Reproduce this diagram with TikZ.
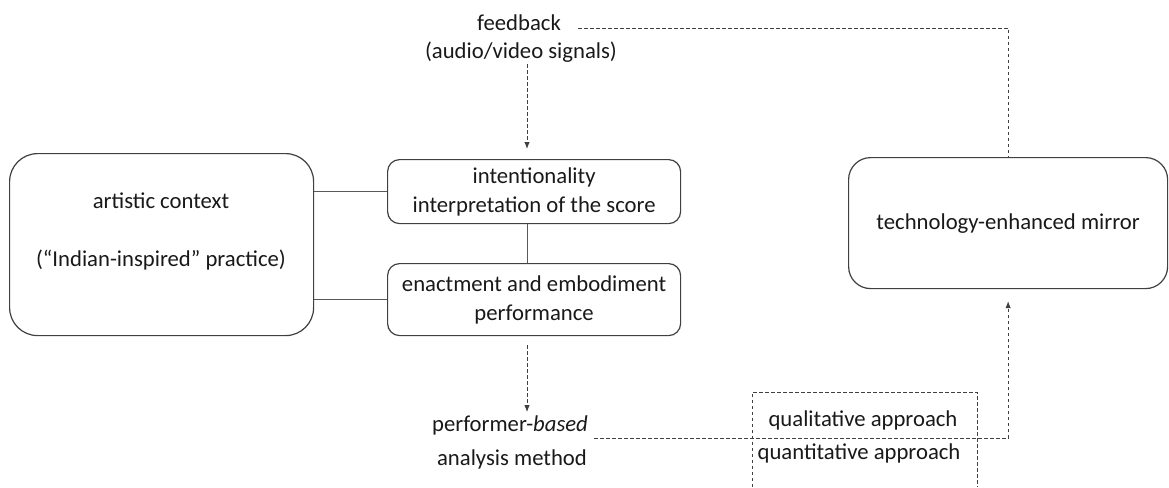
\documentclass[tikz,border=0pt]{standalone}
\usepackage{fontspec}
\setmainfont{Carlito}
\usetikzlibrary{arrows.meta}
\begin{document}
\begin{tikzpicture}[x=1pt,y=-1pt,
  every node/.style={font=\fontsize{22.7}{29}\selectfont, text=black!90, inner sep=0pt},
  stage/.style={draw=black!75, line width=1.2pt, align=center, anchor=north west},
  link/.style={draw=black!65, line width=1pt},
  dashline/.style={draw=black!75, line width=0.9pt, dash pattern=on 3.5pt off 2.5pt},
  dasharrow/.style={dashline, -{Latex[length=7pt,width=5.5pt]}},
  txt/.style={align=center}]
\useasboundingbox (0,0) rectangle (1169,487);

% main blocks
\node[stage, rounded corners=28pt, minimum width=304pt, minimum height=182pt] (context) at (9,153) {};
\node[txt] (contexttext) at (161,231.5) {artistic context\\[29pt](“Indian-inspired” practice)};

\node[stage, rounded corners=12pt, minimum width=293pt, minimum height=64pt] (intent) at (387,159)
  {intentionality\\interpretation of the score};
\node[stage, rounded corners=12pt, minimum width=293pt, minimum height=72pt] (enact) at (387,263)
  {enactment and embodiment\\performance};
\node[stage, rounded corners=22pt, minimum width=319pt, minimum height=131pt] (mirror) at (848,157)
  {technology-enhanced mirror};

% free labels
\node[txt] (fb) at (519,23) {feedback};
\node[txt] (fbsub) at (521,52) {(audio/video signals)};
\node[txt] (pb) at (510,425) {performer-\textit{based}};
\node[txt] (am) at (512,459) {analysis method};
\node[txt] (qual) at (863,420) {qualitative approach};
\node[txt] (quan) at (859,453) {quantitative approach};

% axis of the vertical flow
\coordinate (ax) at (527,0);

% solid links
\draw[link] (intent.west) -- (intent.west -| context.east);
\draw[link] (enact.west) -- (enact.west -| context.east);
\draw[link] (intent.south -| ax) -- (enact.north -| ax);

% dashed flows
\draw[dasharrow] ([yshift=-2pt]fbsub.south -| ax) -- ([yshift=10pt]intent.north -| ax);
\draw[dasharrow] ([yshift=-9pt]enact.south -| ax) -- ([yshift=3pt]pb.north -| ax);
\draw[dashline] ([shift={(17,5)}]fb.east) -| (mirror.north);
\draw[dasharrow] ([shift={(6,13)}]pb.east) -| ([yshift=-12pt]mirror.south);

% open dashed frame round the two approaches
\coordinate (fbl) at (752,487);
\coordinate (ftl) at (752,392);
\coordinate (ftr) at (977,392);
\coordinate (fbr) at (977,487);
\draw[dashline] (fbl) -- (ftl) -- (ftr) -- (fbr);
\end{tikzpicture}
\end{document}
